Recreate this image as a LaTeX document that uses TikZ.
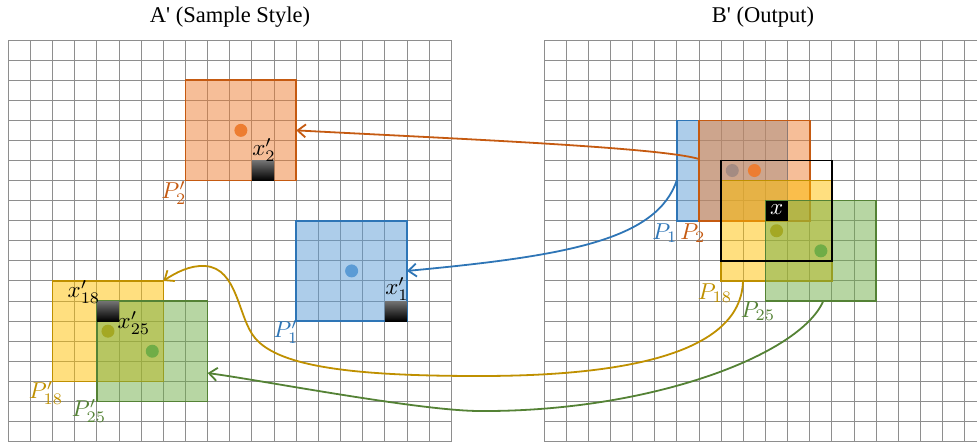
\documentclass[tikz,border=0pt]{standalone}
\usepackage{fontspec}
\setmainfont{Liberation Serif}
\usetikzlibrary{arrows.meta}
\definecolor{oF}{HTML}{ED7D31}\definecolor{oD}{HTML}{C55A11}
\definecolor{bF}{HTML}{5B9BD5}\definecolor{bD}{HTML}{2E75B6}
\definecolor{yF}{HTML}{FFC000}\definecolor{yD}{HTML}{BF9000}
\definecolor{gF}{HTML}{70AD47}\definecolor{gD}{HTML}{548235}
\definecolor{gridc}{HTML}{8E8E8E}
\tikzset{
  gridline/.style={gridc, line width=1pt},
  sq/.style={draw, line width=1.6pt, fill opacity=0.5, draw opacity=1, rectangle,
    minimum width=110.75pt, minimum height=100.4pt, inner sep=0pt, outer sep=0pt},
  dot/.style={circle, minimum size=13pt, inner sep=0pt, draw=none},
  cell/.style={rectangle, minimum width=22.15pt, minimum height=20.08pt, inner sep=0pt, outer sep=0pt},
  win/.style={rectangle, draw=black, line width=1.6pt, minimum width=110.75pt, minimum height=100.4pt, inner sep=0pt},
  conn/.style={line width=1.8pt, -{Straight Barb[length=8pt,width=13pt]}},
  lbl/.style={inner sep=0pt, scale=2.3},
  ttl/.style={inner sep=0pt, anchor=base, font=\fontsize{22.5}{27}\selectfont},
}
\begin{document}
\begin{tikzpicture}[x=1pt,y=-1pt]
\useasboundingbox (0,0) rectangle (977,442);
\clip (0,0) rectangle (977,442);
% titles
\node[ttl] (tA) at (230,22.7) {A\textquotesingle{} (Sample Style)};
\node[ttl] (tB) at (763,22.7) {B\textquotesingle{} (Output)};
% ---------- left grid ----------
\begin{scope}[shift={(8.3,40)}, x=22.15pt, y=-20.08pt]
  \foreach \i in {0,...,20} \draw[gridline] (\i,0) -- (\i,20);
  \foreach \j in {0,...,20} \draw[gridline] (0,\j) -- (20,\j);
  \node[sq, draw=oD, fill=oF] (O2L) at (10.5,4.5) {};
  \node[dot, fill=oF] (o2Ld) at (10.5,4.5) {};
  \node[sq, draw=bD, fill=bF] (B1L) at (15.5,11.5) {};
  \node[dot, fill=bF] (b1Ld) at (15.5,11.5) {};
  \node[sq, draw=yD, fill=yF] (Y18L) at (4.5,14.5) {};
  \node[dot, fill=yF!85!black] (y18Ld) at (4.5,14.5) {};
  \node[sq, draw=gD, fill=gF] (G25L) at (6.5,15.5) {};
  \node[dot, fill=gF] (g25Ld) at (6.5,15.5) {};
  \node[cell, top color=black!55, middle color=black, bottom color=black] (x2c) at (11.5,6.5) {};
  \node[cell, top color=black!55, middle color=black, bottom color=black] (x1c) at (17.5,13.5) {};
  \node[cell, top color=black!55, middle color=black, bottom color=black] (x18c) at (4.5,13.5) {};
\end{scope}
% ---------- right grid ----------
\begin{scope}[shift={(544,40)}, x=22.15pt, y=-20.08pt]
  \foreach \i in {0,...,20} \draw[gridline] (\i,0) -- (\i,20);
  \foreach \j in {0,...,20} \draw[gridline] (0,\j) -- (20,\j);
  \node[sq, draw=bD, fill=bF] (B1R) at (8.5,6.5) {};
  \node[dot, fill=bF] (b1Rd) at (8.5,6.5) {};
  \node[sq, draw=oD, fill=oF] (O2R) at (9.5,6.5) {};
  \node[dot, fill=oF] (o2Rd) at (9.5,6.5) {};
  \node[sq, draw=yD, fill=yF] (Y18R) at (10.5,9.5) {};
  \node[dot, fill=yF!85!black] (y18Rd) at (10.5,9.5) {};
  \node[sq, draw=gD, fill=gF] (G25R) at (12.5,10.5) {};
  \node[dot, fill=gF] (g25Rd) at (12.5,10.5) {};
  \node[win] (W) at (10.5,8.5) {};
  \node[cell, fill=black] (xc) at (10.5,8.5) {};
\end{scope}
\node[lbl, text=white] (xl) at (776.6,210) {$x$};
% ---------- labels ----------
\node[lbl, text=oD] (P2L) at (174,193) {$P'_2$};
\node[lbl] (x2L) at (264,150) {$x'_2$};
\node[lbl, text=bD] (P1L) at (286,332) {$P'_1$};
\node[lbl] (x1L) at (397,289) {$x'_1$};
\node[lbl] (x18L) at (84,292) {$x'_{18}$};
\node[lbl] (x25L) at (134,323) {$x'_{25}$};
\node[lbl, text=yD] (P18L) at (46,393) {$P'_{18}$};
\node[lbl, text=gD] (P25L) at (89,411) {$P'_{25}$};
\node[lbl, text=bD] (P1R) at (665,233) {$P_1$};
\node[lbl, text=oD] (P2R) at (693,233) {$P_2$};
\node[lbl, text=yD] (P18R) at (715,293) {$P_{18}$};
\node[lbl, text=gD] (P25R) at (758,311) {$P_{25}$};
% ---------- connectors ----------
\coordinate (o2s) at ([yshift=11.5pt]O2R.west);
\coordinate (b1s) at ([yshift=-9.5pt]B1R.west);
\coordinate (y18s) at ([xshift=21.8pt]Y18R.south west);
\coordinate (g25s) at ([xshift=2.4pt]G25R.south);
\coordinate (g25t) at ([yshift=-21.8pt]G25L.east);
\draw[conn, oD] (o2s) .. controls +(-40,-12) and +(150,8) .. (O2L.east);
\draw[conn, bD] (b1s) .. controls +(-20,60) and +(160,-15) .. (B1L.east);
\draw[conn, yD] (y18s) .. controls (741,355) and (620,376) .. (480,376)
   .. controls (360,376) and (280,368) .. (255,338)
   .. controls (238,318) and (238,268) .. (205,266)
   .. controls (190,265) and (175,273) .. (Y18L.north east);
\draw[conn, gD] (g25s) .. controls (800,355) and (650,412) .. (480,411)
   .. controls (420,411) and (260,380) .. (g25t);
\end{tikzpicture}
\end{document}
